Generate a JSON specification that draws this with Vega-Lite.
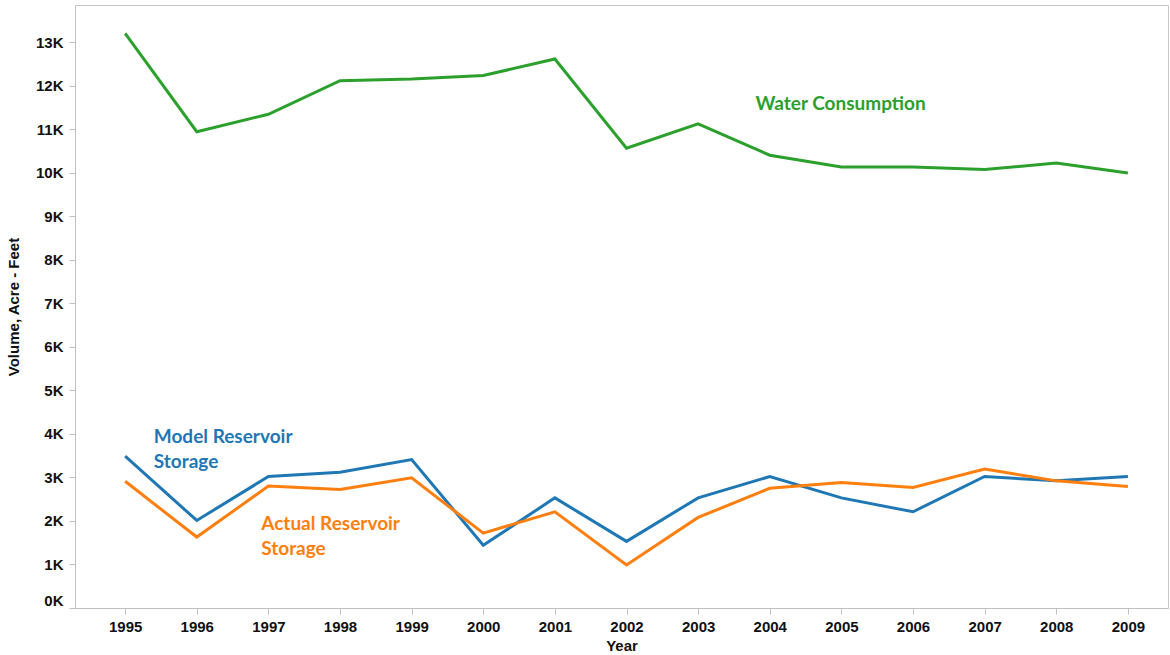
{
  "$schema": "https://vega.github.io/schema/vega-lite/v6.json",
  "width": 1093,
  "height": 603,
  "autosize": {"type": "none"},
  "padding": {"left": 75, "top": 5, "right": 2, "bottom": 47},
  "config": {
    "view": {"stroke": "#c8c8c8", "strokeWidth": 1},
    "font": "Lato",
    "axis": {"domainColor": "#c0c0c0", "tickColor": "#c0c0c0", "grid": false, "labelFont": "Liberation Sans", "labelFontWeight": "bold", "labelFontSize": 15, "labelColor": "#111111", "titleFont": "Liberation Sans", "titleFontWeight": "bold", "titleFontSize": 15, "titleColor": "#111111", "tickSize": 6}
  },
  "datasets": {
    "series": [
      {"Year": 1995, "Series": "Water Consumption", "Volume": 13200},
      {"Year": 1996, "Series": "Water Consumption", "Volume": 10940},
      {"Year": 1997, "Series": "Water Consumption", "Volume": 11340},
      {"Year": 1998, "Series": "Water Consumption", "Volume": 12110},
      {"Year": 1999, "Series": "Water Consumption", "Volume": 12150},
      {"Year": 2000, "Series": "Water Consumption", "Volume": 12230},
      {"Year": 2001, "Series": "Water Consumption", "Volume": 12610},
      {"Year": 2002, "Series": "Water Consumption", "Volume": 10560},
      {"Year": 2003, "Series": "Water Consumption", "Volume": 11120},
      {"Year": 2004, "Series": "Water Consumption", "Volume": 10400},
      {"Year": 2005, "Series": "Water Consumption", "Volume": 10130},
      {"Year": 2006, "Series": "Water Consumption", "Volume": 10130},
      {"Year": 2007, "Series": "Water Consumption", "Volume": 10070},
      {"Year": 2008, "Series": "Water Consumption", "Volume": 10220},
      {"Year": 2009, "Series": "Water Consumption", "Volume": 9990},
      {"Year": 1995, "Series": "Model Reservoir Storage", "Volume": 3490},
      {"Year": 1996, "Series": "Model Reservoir Storage", "Volume": 2010},
      {"Year": 1997, "Series": "Model Reservoir Storage", "Volume": 3020},
      {"Year": 1998, "Series": "Model Reservoir Storage", "Volume": 3120},
      {"Year": 1999, "Series": "Model Reservoir Storage", "Volume": 3410},
      {"Year": 2000, "Series": "Model Reservoir Storage", "Volume": 1440},
      {"Year": 2001, "Series": "Model Reservoir Storage", "Volume": 2530},
      {"Year": 2002, "Series": "Model Reservoir Storage", "Volume": 1530},
      {"Year": 2003, "Series": "Model Reservoir Storage", "Volume": 2530},
      {"Year": 2004, "Series": "Model Reservoir Storage", "Volume": 3020},
      {"Year": 2005, "Series": "Model Reservoir Storage", "Volume": 2530},
      {"Year": 2006, "Series": "Model Reservoir Storage", "Volume": 2210},
      {"Year": 2007, "Series": "Model Reservoir Storage", "Volume": 3020},
      {"Year": 2008, "Series": "Model Reservoir Storage", "Volume": 2920},
      {"Year": 2009, "Series": "Model Reservoir Storage", "Volume": 3020},
      {"Year": 1995, "Series": "Actual Reservoir Storage", "Volume": 2910},
      {"Year": 1996, "Series": "Actual Reservoir Storage", "Volume": 1630},
      {"Year": 1997, "Series": "Actual Reservoir Storage", "Volume": 2800},
      {"Year": 1998, "Series": "Actual Reservoir Storage", "Volume": 2720},
      {"Year": 1999, "Series": "Actual Reservoir Storage", "Volume": 2990},
      {"Year": 2000, "Series": "Actual Reservoir Storage", "Volume": 1720},
      {"Year": 2001, "Series": "Actual Reservoir Storage", "Volume": 2210},
      {"Year": 2002, "Series": "Actual Reservoir Storage", "Volume": 990},
      {"Year": 2003, "Series": "Actual Reservoir Storage", "Volume": 2080},
      {"Year": 2004, "Series": "Actual Reservoir Storage", "Volume": 2750},
      {"Year": 2005, "Series": "Actual Reservoir Storage", "Volume": 2880},
      {"Year": 2006, "Series": "Actual Reservoir Storage", "Volume": 2770},
      {"Year": 2007, "Series": "Actual Reservoir Storage", "Volume": 3190},
      {"Year": 2008, "Series": "Actual Reservoir Storage", "Volume": 2920},
      {"Year": 2009, "Series": "Actual Reservoir Storage", "Volume": 2790}
    ],
    "labels": [
      {"Year": 2003.8, "Volume": 11580, "Series": "Water Consumption", "Label": ["Water Consumption"]},
      {"Year": 1995.4, "Volume": 3920, "Series": "Model Reservoir Storage", "Label": ["Model Reservoir", "Storage"]},
      {"Year": 1996.9, "Volume": 1920, "Series": "Actual Reservoir Storage", "Label": ["Actual Reservoir", "Storage"]}
    ]
  },
  "encoding": {
    "x": {
      "field": "Year", "type": "quantitative",
      "scale": {"domain": [1994.3, 2009.56], "nice": false, "zero": false},
      "axis": {"values": [1995,1996,1997,1998,1999,2000,2001,2002,2003,2004,2005,2006,2007,2008,2009], "format": "d", "title": "Year", "labelPadding": 5, "titlePadding": 4, "labelFlush": false}
    },
    "y": {
      "field": "Volume", "type": "quantitative",
      "scale": {"domain": [0, 13850], "nice": false},
      "axis": {"values": [0,1000,2000,3000,4000,5000,6000,7000,8000,9000,10000,11000,12000,13000], "labelExpr": "datum.value/1000 + 'K'", "title": "Volume, Acre - Feet", "labelPadding": 6, "titlePadding": 14, "labelFlush": true}
    },
    "color": {
      "field": "Series", "type": "nominal",
      "scale": {"domain": ["Water Consumption", "Model Reservoir Storage", "Actual Reservoir Storage"], "range": ["#2ca02c", "#1f77b4", "#ff7f0e"]},
      "legend": null
    }
  },
  "layer": [
    {
      "data": {"name": "series"},
      "mark": {"type": "line", "strokeWidth": 3},
      "encoding": {"detail": {"field": "Series"}, "order": {"field": "Year"}}
    },
    {
      "data": {"name": "labels"},
      "mark": {"type": "text", "align": "left", "baseline": "middle", "font": "Lato", "fontWeight": "bold", "fontSize": 19, "lineHeight": 25},
      "encoding": {"text": {"field": "Label"}}
    }
  ]
}
